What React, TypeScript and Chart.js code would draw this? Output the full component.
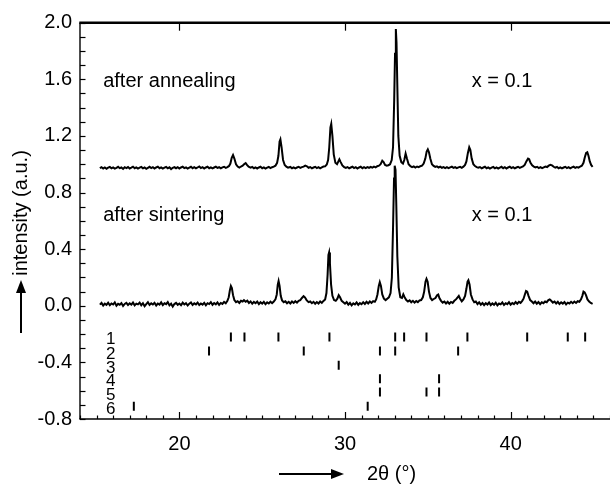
import React, { useEffect, useRef } from "react";
import { Chart, registerables } from "chart.js";

Chart.register(...registerables);

// ---------- data ----------
const annealTheta = [
  15.2, 15.3, 15.4, 15.5, 15.6, 15.7, 15.8, 15.9, 16.0, 16.1, 16.2, 16.3, 16.4, 16.5, 16.6, 16.7, 16.8, 16.9, 17.0, 17.1,
  17.2, 17.3, 17.4, 17.5, 17.6, 17.7, 17.8, 17.9, 18.0, 18.1, 18.2, 18.3, 18.4, 18.5, 18.6, 18.7, 18.8, 18.9, 19.0, 19.1,
  19.2, 19.3, 19.4, 19.5, 19.6, 19.7, 19.8, 19.9, 20.0, 20.1, 20.2, 20.3, 20.4, 20.5, 20.6, 20.7, 20.8, 20.9, 21.0, 21.1,
  21.2, 21.3, 21.4, 21.5, 21.6, 21.7, 21.8, 21.9, 22.0, 22.1, 22.2, 22.3, 22.4, 22.5, 22.6, 22.7, 22.8, 22.9, 23.0, 23.08,
  23.16, 23.24, 23.32, 23.42, 23.52, 23.62, 23.72, 23.82, 23.92, 24.0, 24.08, 24.18, 24.3, 24.4, 24.5, 24.6, 24.7, 24.8, 24.9, 25.0,
  25.1, 25.2, 25.3, 25.4, 25.5, 25.6, 25.7, 25.8, 25.9, 25.98, 26.05, 26.1, 26.17, 26.26, 26.36, 26.46, 26.56, 26.7, 26.8, 26.9,
  27.0, 27.1, 27.2, 27.3, 27.4, 27.5, 27.6, 27.7, 27.8, 27.9, 28.0, 28.1, 28.2, 28.3, 28.4, 28.5, 28.6, 28.7, 28.8, 28.9,
  28.98, 29.05, 29.12, 29.17, 29.24, 29.32, 29.42, 29.52, 29.6, 29.66, 29.74, 29.84, 29.95, 30.05, 30.15, 30.25, 30.35, 30.45, 30.55, 30.65,
  30.75, 30.85, 30.95, 31.05, 31.15, 31.25, 31.35, 31.45, 31.55, 31.65, 31.75, 31.85, 31.95, 32.05, 32.15, 32.25, 32.33, 32.42, 32.52, 32.62,
  32.72, 32.82, 32.9, 32.97, 33.02, 33.07, 33.11, 33.16, 33.22, 33.3, 33.4, 33.5, 33.58, 33.66, 33.74, 33.84, 33.95, 34.05, 34.15, 34.25,
  34.35, 34.45, 34.55, 34.65, 34.75, 34.85, 34.93, 35.0, 35.07, 35.15, 35.25, 35.35, 35.45, 35.55, 35.65, 35.75, 35.85, 35.95, 36.05, 36.15,
  36.25, 36.35, 36.45, 36.55, 36.65, 36.75, 36.85, 36.95, 37.05, 37.15, 37.25, 37.33, 37.42, 37.5, 37.57, 37.65, 37.75, 37.85, 37.95, 38.05,
  38.15, 38.25, 38.35, 38.45, 38.55, 38.65, 38.75, 38.85, 38.95, 39.05, 39.15, 39.25, 39.35, 39.45, 39.55, 39.65, 39.75, 39.85, 39.95, 40.05,
  40.15, 40.25, 40.35, 40.45, 40.55, 40.65, 40.75, 40.85, 40.95, 41.05, 41.12, 41.2, 41.3, 41.4, 41.5, 41.6, 41.7, 41.8, 41.9, 42.0,
  42.1, 42.2, 42.3, 42.4, 42.5, 42.6, 42.7, 42.8, 42.9, 43.0, 43.1, 43.2, 43.3, 43.4, 43.5, 43.6, 43.7, 43.8, 43.9, 44.0,
  44.1, 44.2, 44.3, 44.4, 44.48, 44.56, 44.63, 44.7, 44.78, 44.86, 44.95,
];
const annealIntensity = [
  0.972, 0.979, 0.970, 0.977, 0.968, 0.976, 0.981, 0.971, 0.978, 0.969, 0.975, 0.982, 0.972, 0.977, 0.967, 0.979, 0.973, 0.980, 0.970, 0.976,
  0.983, 0.972, 0.978, 0.969, 0.976, 0.981, 0.971, 0.977, 0.968, 0.975, 0.982, 0.973, 0.979, 0.970, 0.977, 0.983, 0.972, 0.978, 0.969, 0.976,
  0.981, 0.971, 0.978, 0.966, 0.975, 0.980, 0.972, 0.979, 0.970, 0.977, 0.983, 0.973, 0.978, 0.969, 0.976, 0.982, 0.972, 0.979, 0.971, 0.977,
  0.984, 0.973, 0.979, 0.970, 0.977, 0.982, 0.972, 0.978, 0.971, 0.977, 0.983, 0.974, 0.979, 0.971, 0.978, 0.982, 0.974, 0.980, 0.988, 1.005,
  1.045, 1.065, 1.040, 1.000, 0.984, 0.977, 0.984, 0.990, 1.002, 1.008, 0.995, 0.982, 0.976, 0.981, 0.972, 0.978, 0.970, 0.977, 0.982, 0.972,
  0.978, 0.969, 0.976, 0.981, 0.973, 0.979, 0.983, 0.990, 1.010, 1.060, 1.160, 1.175, 1.120, 1.030, 0.995, 0.983, 0.976, 0.981, 0.972, 0.978,
  0.971, 0.977, 0.982, 0.974, 0.980, 0.983, 0.990, 0.985, 0.975, 0.980, 0.971, 0.977, 0.982, 0.973, 0.979, 0.971, 0.978, 0.984, 0.985, 0.998,
  1.030, 1.120, 1.260, 1.285, 1.200, 1.070, 1.010, 1.000, 1.020, 1.035, 1.015, 0.992, 0.980, 0.974, 0.980, 0.971, 0.977, 0.983, 0.973, 0.979,
  0.970, 0.977, 0.982, 0.972, 0.979, 0.973, 0.980, 0.975, 0.982, 0.976, 0.983, 0.978, 0.986, 0.990, 1.000, 1.025, 1.015, 0.995, 0.990, 0.993,
  1.000, 1.030, 1.120, 1.450, 1.780, 1.955, 1.860, 1.550, 1.200, 1.060, 1.015, 1.005, 1.030, 1.075, 1.040, 1.000, 0.986, 0.980, 0.985, 0.977,
  0.984, 0.979, 0.986, 0.990, 1.005, 1.040, 1.090, 1.105, 1.085, 1.040, 1.000, 0.988, 0.981, 0.985, 0.977, 0.983, 0.975, 0.980, 0.973, 0.979,
  0.972, 0.978, 0.983, 0.974, 0.980, 0.972, 0.978, 0.982, 0.975, 0.983, 0.995, 1.020, 1.080, 1.120, 1.100, 1.040, 1.000, 0.987, 0.980, 0.975,
  0.980, 0.971, 0.977, 0.982, 0.972, 0.978, 0.969, 0.976, 0.981, 0.971, 0.978, 0.970, 0.976, 0.982, 0.972, 0.979, 0.970, 0.977, 0.983, 0.973,
  0.979, 0.971, 0.977, 0.982, 0.974, 0.980, 0.985, 0.995, 1.020, 1.040, 1.035, 1.010, 0.992, 0.983, 0.977, 0.982, 0.973, 0.979, 0.972, 0.978,
  0.983, 0.980, 0.990, 0.996, 0.992, 0.982, 0.976, 0.981, 0.972, 0.978, 0.971, 0.977, 0.982, 0.973, 0.979, 0.971, 0.978, 0.983, 0.974, 0.980,
  0.976, 0.984, 0.990, 1.010, 1.050, 1.080, 1.085, 1.060, 1.020, 0.995, 0.982,
];

const sinterTheta = [
  15.2, 15.3, 15.4, 15.5, 15.6, 15.7, 15.8, 15.9, 16.0, 16.1, 16.2, 16.3, 16.4, 16.5, 16.6, 16.7, 16.8, 16.9, 17.0, 17.1,
  17.2, 17.3, 17.4, 17.5, 17.6, 17.7, 17.8, 17.9, 18.0, 18.1, 18.2, 18.3, 18.4, 18.5, 18.6, 18.7, 18.8, 18.9, 19.0, 19.1,
  19.2, 19.3, 19.4, 19.5, 19.6, 19.7, 19.8, 19.9, 20.0, 20.1, 20.2, 20.3, 20.4, 20.5, 20.6, 20.7, 20.8, 20.9, 21.0, 21.1,
  21.2, 21.3, 21.4, 21.5, 21.6, 21.7, 21.8, 21.9, 22.0, 22.1, 22.2, 22.3, 22.4, 22.5, 22.6, 22.7, 22.8, 22.9, 22.98, 23.05,
  23.11, 23.17, 23.24, 23.32, 23.42, 23.52, 23.62, 23.72, 23.82, 23.9, 24.0, 24.1, 24.2, 24.3, 24.4, 24.5, 24.6, 24.7, 24.8, 24.9,
  25.0, 25.1, 25.2, 25.3, 25.4, 25.5, 25.6, 25.7, 25.8, 25.88, 25.94, 25.99, 26.05, 26.12, 26.2, 26.3, 26.4, 26.5, 26.6, 26.7,
  26.8, 26.9, 27.0, 27.1, 27.2, 27.3, 27.4, 27.5, 27.58, 27.68, 27.8, 27.9, 28.0, 28.1, 28.2, 28.3, 28.4, 28.5, 28.6, 28.7,
  28.8, 28.88, 28.95, 29.0, 29.04, 29.09, 29.16, 29.24, 29.34, 29.44, 29.54, 29.62, 29.7, 29.8, 29.9, 30.0, 30.1, 30.2, 30.3, 30.4,
  30.5, 30.6, 30.7, 30.8, 30.9, 31.0, 31.1, 31.2, 31.3, 31.4, 31.5, 31.6, 31.7, 31.8, 31.88, 31.96, 32.04, 32.1, 32.17, 32.25,
  32.35, 32.45, 32.55, 32.65, 32.75, 32.83, 32.9, 32.96, 33.0, 33.05, 33.1, 33.16, 33.24, 33.34, 33.44, 33.52, 33.6, 33.7, 33.8, 33.9,
  34.0, 34.1, 34.2, 34.3, 34.4, 34.5, 34.6, 34.7, 34.78, 34.86, 34.92, 34.99, 35.07, 35.16, 35.26, 35.36, 35.46, 35.56, 35.63, 35.7,
  35.8, 35.9, 36.0, 36.1, 36.2, 36.3, 36.4, 36.5, 36.6, 36.7, 36.8, 36.87, 36.95, 37.05, 37.15, 37.25, 37.33, 37.4, 37.45, 37.52,
  37.6, 37.7, 37.8, 37.9, 38.0, 38.1, 38.2, 38.3, 38.4, 38.5, 38.6, 38.7, 38.8, 38.9, 39.0, 39.1, 39.2, 39.3, 39.4, 39.5,
  39.6, 39.7, 39.8, 39.9, 40.0, 40.1, 40.2, 40.3, 40.4, 40.5, 40.6, 40.7, 40.78, 40.86, 40.93, 41.0, 41.08, 41.18, 41.28, 41.38,
  41.48, 41.58, 41.68, 41.78, 41.88, 41.98, 42.08, 42.18, 42.28, 42.36, 42.45, 42.55, 42.65, 42.75, 42.85, 42.95, 43.05, 43.15, 43.25, 43.35,
  43.45, 43.55, 43.65, 43.75, 43.85, 43.95, 44.05, 44.15, 44.25, 44.33, 44.4, 44.47, 44.55, 44.64, 44.74, 44.84, 44.95,
];
const sinterIntensity = [
  0.008, 0.020, 0.002, 0.015, 0.006, 0.022, 0.004, 0.016, 0.009, 0.024, 0.001, 0.014, 0.007, 0.019, -0.002, 0.013, 0.021, 0.005, 0.017, 0.008,
  0.023, 0.003, 0.015, 0.010, 0.022, 0.004, 0.018, -0.003, 0.012, 0.025, 0.006, 0.017, 0.009, 0.021, 0.002, 0.016, 0.008, 0.024, 0.005, 0.018,
  0.011, 0.026, 0.003, 0.015, -0.006, 0.012, 0.020, 0.007, 0.016, 0.004, 0.022, 0.009, 0.018, 0.002, 0.015, 0.024, 0.006, 0.017, 0.010, 0.023,
  0.005, 0.016, 0.008, 0.021, 0.003, 0.018, 0.012, 0.026, 0.007, 0.019, 0.010, 0.024, 0.006, 0.020, 0.013, 0.027, 0.018, 0.035, 0.060, 0.110,
  0.140, 0.125, 0.075, 0.040, 0.025, 0.032, 0.020, 0.035, 0.030, 0.040, 0.028, 0.036, 0.020, 0.030, 0.014, 0.027, 0.018, 0.030, 0.012, 0.025,
  0.015, 0.028, 0.011, 0.024, 0.016, 0.029, 0.018, 0.030, 0.045, 0.080, 0.150, 0.175, 0.140, 0.070, 0.038, 0.025, 0.032, 0.018, 0.028, 0.016,
  0.030, 0.020, 0.032, 0.022, 0.035, 0.040, 0.055, 0.068, 0.060, 0.040, 0.026, 0.030, 0.018, 0.028, 0.014, 0.026, 0.016, 0.030, 0.020, 0.034,
  0.045, 0.090, 0.220, 0.360, 0.377, 0.300, 0.150, 0.070, 0.040, 0.035, 0.050, 0.075, 0.060, 0.035, 0.025, 0.015, 0.026, 0.008, 0.020, 0.003,
  0.017, 0.009, 0.023, 0.006, 0.019, 0.011, 0.025, 0.013, 0.028, 0.016, 0.030, 0.020, 0.033, 0.028, 0.045, 0.080, 0.140, 0.167, 0.140, 0.080,
  0.050, 0.040, 0.050, 0.060, 0.090, 0.200, 0.550, 0.900, 0.990, 0.960, 0.700, 0.350, 0.130, 0.060, 0.055, 0.080, 0.060, 0.040, 0.030, 0.038,
  0.025, 0.035, 0.022, 0.034, 0.026, 0.038, 0.040, 0.060, 0.100, 0.170, 0.190, 0.170, 0.100, 0.055, 0.040, 0.048, 0.055, 0.075, 0.080, 0.055,
  0.035, 0.022, 0.030, 0.016, 0.028, 0.014, 0.027, 0.020, 0.035, 0.045, 0.060, 0.070, 0.050, 0.032, 0.045, 0.070, 0.120, 0.170, 0.180, 0.150,
  0.080, 0.045, 0.025, 0.030, 0.012, 0.024, 0.008, 0.020, 0.004, 0.018, 0.009, 0.023, 0.005, 0.017, 0.007, 0.021, 0.003, 0.016, 0.010, 0.024,
  0.006, 0.018, 0.011, 0.025, 0.008, 0.020, 0.012, 0.026, 0.014, 0.028, 0.020, 0.035, 0.050, 0.080, 0.105, 0.100, 0.070, 0.040, 0.030, 0.018,
  0.030, 0.015, 0.027, 0.012, 0.025, 0.018, 0.030, 0.025, 0.040, 0.045, 0.035, 0.022, 0.030, 0.016, 0.028, 0.012, 0.024, 0.015, 0.027, 0.010,
  0.022, 0.016, 0.028, 0.018, 0.030, 0.020, 0.032, 0.028, 0.045, 0.070, 0.100, 0.095, 0.075, 0.045, 0.030, 0.020, 0.014,
];

// reflection positions (2θ) of the reference phases 1..6
const phase1 = [23.11, 23.93, 25.98, 29.06, 33.03, 33.57, 34.92, 37.39, 41.0, 43.45, 44.5];
const phase2 = [21.79, 27.51, 32.11, 33.03, 36.83];
const phase3 = [29.62];
const phase4 = [32.11, 35.68];
const phase5 = [32.11, 34.92, 35.68];
const phase6 = [17.25, 31.37];
const phaseRows = [-0.22, -0.32, -0.42, -0.515, -0.61, -0.71];
const phaseLabels = ["1", "2", "3", "4", "5", "6"];

const xLabelValues = [20, 30, 40];
const sampleLabels = ["after annealing", "after sintering"];
const compositionLabel = "x = 0.1";
const yTitle = "intensity (a.u.)";
const xTitle = "2θ (°)";

const FONT = "'Liberation Sans', Arial, Helvetica, sans-serif";

function drawArrow(ctx: CanvasRenderingContext2D, x1: number, y1: number, x2: number, y2: number) {
  const ang = Math.atan2(y2 - y1, x2 - x1);
  const hl = 13;
  const hw = 5;
  const bx = x2 - hl * Math.cos(ang);
  const by = y2 - hl * Math.sin(ang);
  ctx.beginPath();
  ctx.lineWidth = 2;
  ctx.moveTo(x1, y1);
  ctx.lineTo(bx, by);
  ctx.stroke();
  ctx.beginPath();
  ctx.moveTo(x2, y2);
  ctx.lineTo(bx + hw * Math.sin(ang), by - hw * Math.cos(ang));
  ctx.lineTo(bx - hw * Math.sin(ang), by + hw * Math.cos(ang));
  ctx.closePath();
  ctx.fill();
}

const framePlugin = {
  id: "frame",
  afterDraw(chart: any) {
    const ctx: CanvasRenderingContext2D = chart.ctx;
    const { left, top, bottom } = chart.chartArea;
    const W = chart.width;
    const xs = chart.scales.x;
    const ys = chart.scales.y;
    ctx.save();
    ctx.strokeStyle = "#000";
    ctx.fillStyle = "#000";
    ctx.lineCap = "butt";

    // top frame line (thick)
    ctx.lineWidth = 2.6;
    ctx.beginPath();
    ctx.moveTo(left - 0.7, top);
    ctx.lineTo(W, top);
    ctx.stroke();
    // left axis
    ctx.lineWidth = 1.4;
    ctx.beginPath();
    ctx.moveTo(left, top);
    ctx.lineTo(left, bottom);
    ctx.stroke();
    // bottom axis
    ctx.beginPath();
    ctx.moveTo(left - 0.7, bottom);
    ctx.lineTo(W, bottom);
    ctx.stroke();

    // y tick marks every 0.1 (inside)
    ctx.lineWidth = 1.2;
    for (let k = -8; k <= 20; k++) {
      const y = Math.round(ys.getPixelForValue(k / 10)) + 0.5;
      ctx.beginPath();
      ctx.moveTo(left, y);
      ctx.lineTo(left + 5.5, y);
      ctx.stroke();
    }
    // x tick marks every 1 (inside), majors longer
    for (let v = Math.ceil(xs.min); v <= xs.max; v++) {
      const x = Math.round(xs.getPixelForValue(v)) + 0.5;
      const major = v % 10 === 0;
      ctx.beginPath();
      ctx.moveTo(x, bottom);
      ctx.lineTo(x, bottom - (major ? 7 : 3.5));
      ctx.stroke();
      if (major) {
        ctx.beginPath();
        ctx.moveTo(x, top);
        ctx.lineTo(x, top + 8);
        ctx.stroke();
      }
    }

    // sample annotations
    ctx.font = `20px ${FONT}`;
    ctx.textAlign = "left";
    ctx.textBaseline = "alphabetic";
    const tx1 = xs.getPixelForValue(15.4);
    const tx2 = xs.getPixelForValue(37.65);
    const ya = ys.getPixelForValue(1.546);
    const yb = ys.getPixelForValue(0.602);
    ctx.fillText(sampleLabels[0], tx1, ya);
    ctx.fillText(compositionLabel, tx2, ya);
    ctx.fillText(sampleLabels[1], tx1, yb);
    ctx.fillText(compositionLabel, tx2, yb);

    // phase row labels
    ctx.font = `17px ${FONT}`;
    ctx.textAlign = "center";
    const lx = xs.getPixelForValue(15.85);
    phaseRows.forEach((r, i) => {
      ctx.fillText(phaseLabels[i], lx, ys.getPixelForValue(r) + 7.5);
    });

    // axis titles with arrows
    ctx.font = `20px ${FONT}`;
    ctx.save();
    ctx.translate(21, 213);
    ctx.rotate(-Math.PI / 2);
    ctx.textAlign = "center";
    ctx.textBaseline = "middle";
    ctx.fillText(yTitle, 0, 0);
    ctx.restore();
    drawArrow(ctx, 21, 333, 21, 280);

    ctx.textAlign = "left";
    ctx.textBaseline = "middle";
    ctx.fillText(xTitle, 367, 474);
    drawArrow(ctx, 279, 474, 344, 474);

    ctx.restore();
  },
};

function rowDataset(values: number[], row: number) {
  return {
    data: values.map((x) => ({ x, y: row })),
    showLine: false,
    pointStyle: "line" as const,
    pointRotation: 90,
    pointRadius: 4.5,
    pointHoverRadius: 4.5,
    pointBorderWidth: 2,
    pointBorderColor: "#000",
    pointBackgroundColor: "#000",
    borderColor: "#000",
  };
}

function patternDataset(theta: number[], intensity: number[]) {
  return {
    data: theta.map((x, i) => ({ x, y: intensity[i] })),
    showLine: true,
    borderColor: "#000",
    borderWidth: 2,
    pointRadius: 0,
    tension: 0,
  };
}

export default function App() {
  const ref = useRef<HTMLCanvasElement>(null);

  useEffect(() => {
    if (!ref.current) return;
    const phases = [phase1, phase2, phase3, phase4, phase5, phase6];
    const chart = new Chart(ref.current, {
      type: "scatter",
      data: {
        datasets: [
          patternDataset(annealTheta, annealIntensity),
          patternDataset(sinterTheta, sinterIntensity),
          ...phases.map((p, i) => rowDataset(p, phaseRows[i])),
        ] as any,
      },
      options: {
        responsive: false,
        devicePixelRatio: 1,
        animation: false,
        events: [],
        layout: { autoPadding: false, padding: { top: 22.7, right: 0, bottom: 0, left: 0 } },
        plugins: { legend: { display: false }, tooltip: { enabled: false }, title: { display: false } },
        scales: {
          x: {
            type: "linear",
            min: 14,
            max: 46,
            grid: { display: false, drawTicks: false },
            border: { display: false },
            afterFit: (s: any) => {
              s.height = 65;
              s.paddingLeft = 0;
              s.paddingRight = 0;
            },
            ticks: {
              stepSize: 1,
              autoSkip: false,
              maxRotation: 0,
              padding: 13,
              color: "#000",
              font: { family: FONT, size: 20 },
              callback: (v: any) => (xLabelValues.includes(Number(v)) ? String(v) : ""),
            },
          },
          y: {
            type: "linear",
            min: -0.8,
            max: 2.0,
            grid: { display: false, drawTicks: false },
            border: { display: false },
            afterFit: (s: any) => {
              s.width = 80;
              s.paddingTop = 0;
              s.paddingBottom = 0;
            },
            ticks: {
              stepSize: 0.4,
              padding: 8,
              color: "#000",
              font: { family: FONT, size: 20 },
              callback: (v: any) => {
                const n = Number(v);
                return Math.abs(n) < 1e-9 ? "0.0" : n.toFixed(1);
              },
            },
          },
        },
      },
      plugins: [framePlugin],
    } as any);
    return () => chart.destroy();
  }, []);

  return (
    <div style={{ position: "fixed", left: 0, top: 0, width: 610, height: 484, background: "#fff" }}>
      <canvas ref={ref} width={610} height={484} style={{ display: "block", width: 610, height: 484 }} />
    </div>
  );
}
